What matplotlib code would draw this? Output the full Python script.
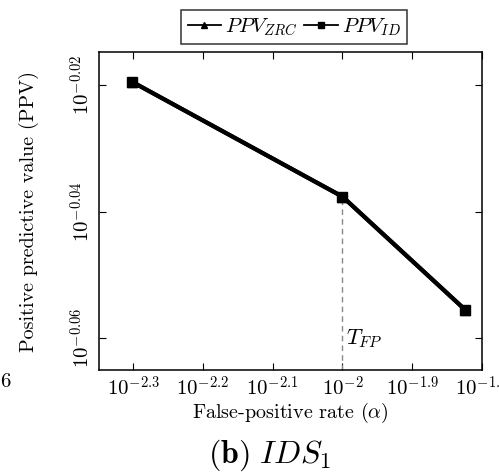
import numpy as np
import matplotlib
matplotlib.use("Agg")
import matplotlib.pyplot as plt
from matplotlib.ticker import FixedLocator, FixedFormatter, NullLocator
from matplotlib.lines import Line2D

plt.rcParams['font.family'] = 'serif'
plt.rcParams['font.serif'] = ['cmr10', 'DejaVu Serif']
plt.rcParams['mathtext.fontset'] = 'cm'
plt.rcParams['axes.formatter.use_mathtext'] = True

# data
alpha = [0.005, 0.01, 0.015]
ppv_zrc = [0.956, 0.917, 0.880]
ppv_id = [0.956, 0.917, 0.880]
x_exps = [-2.3, -2.2, -2.1, -2.0, -1.9, -1.8]
x_labels = ["$10^{-2.3}$", "$10^{-2.2}$", "$10^{-2.1}$", "$10^{-2}$", "$10^{-1.9}$", "$10^{-1.8}$"]
y_exps = [-0.02, -0.04, -0.06]
y_labels = ["$10^{-0.02}$", "$10^{-0.04}$", "$10^{-0.06}$"]
threshold = 0.01

fig = plt.figure(figsize=(4.99, 4.73), dpi=100)
ax = fig.add_axes([99/499, 1-370/473, (482-99)/499, (370-52)/473])
ax.set_xscale('log')
ax.set_yscale('log')

ax.plot(alpha, ppv_zrc, color='black', lw=3.0, marker='^', ms=7, zorder=3)
ax.plot(alpha, ppv_id, color='black', lw=3.0, marker='s', ms=7.5, zorder=4)

ax.set_xlim(10**-2.349, 10**-1.8)
ax.set_ylim(10**-0.065, 10**-0.0148)

ax.vlines(threshold, 10**-0.065, ppv_id[1], colors='#888888', linestyles=(0, (4, 3)), lw=1.0, zorder=2)
ax.text(threshold*1.012, 10**-0.0601, '$T_{FP}$', fontsize=16, ha='left', va='center')

ax.xaxis.set_major_locator(FixedLocator([10**e for e in x_exps]))
ax.xaxis.set_major_formatter(FixedFormatter(x_labels))
ax.xaxis.set_minor_locator(NullLocator())
ax.yaxis.set_major_locator(FixedLocator([10**e for e in y_exps]))
ax.yaxis.set_major_formatter(FixedFormatter(y_labels))
ax.yaxis.set_minor_locator(NullLocator())
ax.tick_params(which='major', direction='in', top=True, right=True, length=5, width=0.8,
               labelsize=15, pad=4)
for lab in ax.get_yticklabels():
    lab.set_rotation(90)
    lab.set_va('center')
for s in ax.spines.values():
    s.set_linewidth(1.1)

ax.set_xlabel(r'False-positive rate ($\alpha$)', fontsize=14.5)
ax.xaxis.set_label_coords(0.5, (370-413)/318)
ax.xaxis.label.set_va('center')
ax.set_ylabel('Positive predictive value (PPV)', fontsize=14.5)
ax.yaxis.set_label_coords((29-99)/383, 0.5)
ax.yaxis.label.set_va('center')

handles = [Line2D([], [], color='black', lw=1.3, marker='^', ms=5),
           Line2D([], [], color='black', lw=1.3, marker='s', ms=5)]
leg = ax.legend(handles, ['$PPV_{ZRC}$', '$PPV_{ID}$'], loc='lower center',
                bbox_to_anchor=(0.51, 1.025), ncol=2, frameon=True,
                fancybox=False, edgecolor='black', fontsize=15, handlelength=1.6,
                columnspacing=0.3, handletextpad=0.2, borderpad=0.3, borderaxespad=0)
leg.get_frame().set_linewidth(1.1)

fig.text(0.54, 1-455/473, r'$\mathbf{(b)}\ IDS_1$', fontsize=23, ha='center', va='center')
fig.text(0/499, 1-382/473, '6', fontsize=15, ha='left', va='center')

fig.savefig('out.png', dpi=100)
